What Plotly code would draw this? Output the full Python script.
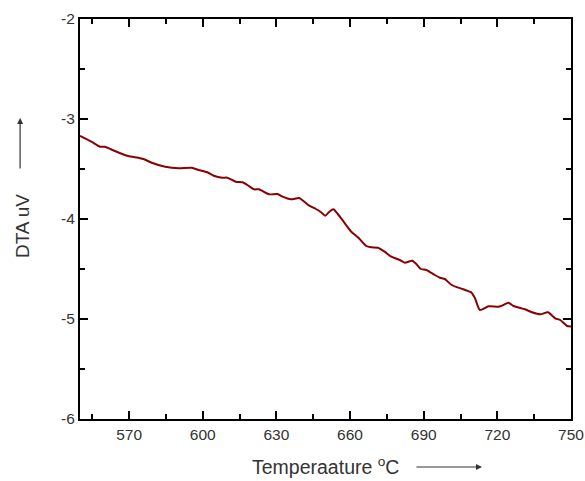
import plotly.graph_objects as go

temperature = [550.0, 554.6, 558.1, 560.1, 564.2, 569.6, 573.7, 575.8, 579.2, 584.7,
               590.1, 595.5, 598.3, 601.8, 604.5, 608.0, 610.0, 613.4, 616.2, 618.2,
               620.9, 622.9, 627.0, 630.5, 632.5, 635.9, 639.3, 641.4, 643.4, 646.1,
               648.2, 649.9, 651.6, 653.2, 655.0, 657.1, 660.5, 663.2, 666.6, 668.6,
               671.4, 674.1, 676.8, 680.2, 682.3, 685.3, 687.0, 688.8, 691.1, 694.5,
               696.6, 698.6, 701.4, 706.1, 709.5, 710.9, 712.9, 716.4, 720.5, 722.5,
               724.5, 726.6, 731.3, 734.1, 737.5, 740.6, 743.6, 745.6, 748.4, 750.0]
dta = [-3.170, -3.227, -3.277, -3.277, -3.320, -3.370, -3.387, -3.400, -3.437, -3.477,
       -3.493, -3.487, -3.510, -3.533, -3.567, -3.587, -3.587, -3.627, -3.633, -3.660,
       -3.703, -3.703, -3.753, -3.750, -3.777, -3.803, -3.790, -3.827, -3.867, -3.900,
       -3.933, -3.967, -3.927, -3.903, -3.950, -4.017, -4.127, -4.183, -4.270, -4.283,
       -4.287, -4.327, -4.377, -4.410, -4.437, -4.417, -4.450, -4.500, -4.510, -4.560,
       -4.587, -4.600, -4.660, -4.703, -4.737, -4.793, -4.910, -4.873, -4.877, -4.860,
       -4.837, -4.870, -4.903, -4.933, -4.953, -4.933, -4.993, -5.010, -5.070, -5.075]

y_tickvals = [-6, -5, -4, -3, -2]
y_ticktext = ["-6", "-5", "-4", "-3", "-2"]

font = "Arial, Liberation Sans, sans-serif"

fig = go.Figure()
fig.add_trace(go.Scatter(x=temperature, y=dta, mode="lines",
                         line=dict(color="#8b0000", width=2, shape="spline", smoothing=0.6),
                         showlegend=False))

axis_common = dict(showline=True, linecolor="black", linewidth=2, mirror="ticks",
                   ticks="inside", ticklen=8, tickwidth=1.5, tickcolor="black",
                   showgrid=False, zeroline=False, automargin=False,
                   tickfont=dict(family=font, size=15.5, color="#333"))

fig.update_xaxes(range=[550, 750], tick0=0, dtick=30,
                 minor=dict(ticks="inside", ticklen=5, dtick=15, tick0=0, tickcolor="black"),
                 **axis_common)
fig.update_yaxes(range=[-6, -2], tickvals=y_tickvals, ticktext=y_ticktext,
                 minor=dict(ticks="inside", ticklen=5, dtick=0.5, tick0=0, tickcolor="black"),
                 **axis_common)

fig.update_layout(
    width=585, height=481,
    margin=dict(l=80, r=14, t=19, b=62),
    plot_bgcolor="white", paper_bgcolor="white",
    font=dict(family=font, color="#333"),
    annotations=[
        dict(text="Temperaature <sup>o</sup>C", xref="paper", yref="paper",
             x=0.499, y=-0.1175, xanchor="center", yanchor="middle", showarrow=False,
             font=dict(size=19.5, family=font, color="#333")),
        dict(text="", xref="paper", yref="paper", x=0.8187, y=-0.12,
             showarrow=True, ax=-67, ay=0, arrowhead=2, arrowsize=1, arrowwidth=1.2,
             arrowcolor="#333"),
        dict(text="DTA uV", xref="paper", yref="paper", x=-0.118, y=0.4825,
             xanchor="center", yanchor="middle",
             textangle=-90, showarrow=False, font=dict(size=19, family=font, color="#333")),
        dict(text="", xref="paper", yref="paper", x=-0.122, y=0.7525,
             showarrow=True, ax=0, ay=52, arrowhead=2, arrowsize=1, arrowwidth=1.2,
             arrowcolor="#333"),
    ],
)

fig.write_html("out.html")
